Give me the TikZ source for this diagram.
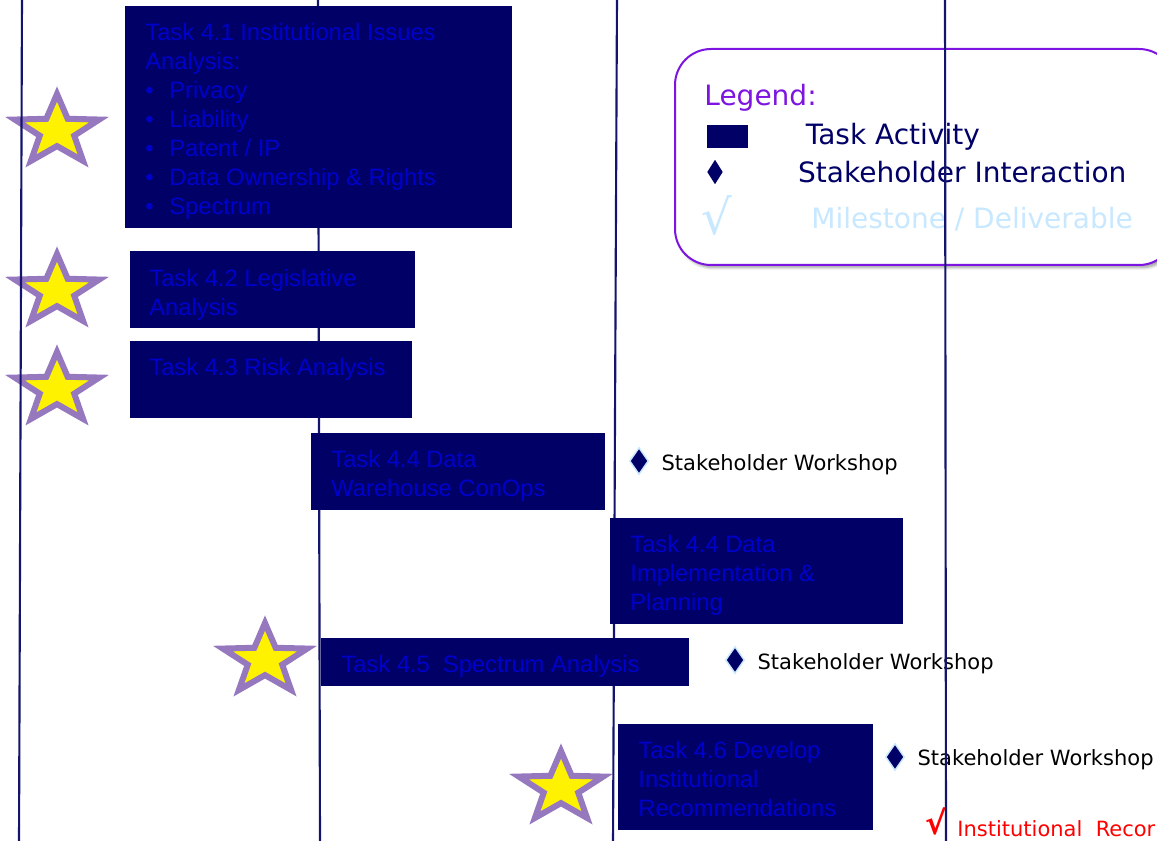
\documentclass[tikz,border=0pt]{standalone}
\usepackage{fontspec}
\setmainfont{Liberation Sans}
\newfontfamily\tahoma{DejaVu Sans}
\usepackage{tikz}
\usetikzlibrary{shapes.geometric,positioning,shadows.blur}
\definecolor{navy}{RGB}{0,0,102}
\definecolor{taskblue}{RGB}{0,0,204}
\definecolor{gridnavy}{RGB}{20,20,110}
\definecolor{starlilac}{RGB}{150,120,190}
\definecolor{legendpurple}{RGB}{125,20,225}
\definecolor{paleblue}{RGB}{200,232,255}
\newcommand\itembullet{\makebox[18pt][l]{\textbullet}}

\begin{document}
\begin{tikzpicture}[x=0.75pt,y=-0.75pt,semithick]
			\tikzstyle{taskbox}=[draw=none,fill=navy,anchor=north west,inner sep=0pt]
			\tikzstyle{tasktext}=[anchor=north west,inner sep=0pt,align=left,text=taskblue,font=\fontsize{17.8}{21.75}\selectfont]
			\tikzstyle{bigstar}=[star,star points=5,star point ratio=2.45,minimum size=55.5pt,inner sep=0pt,draw=starlilac,fill=yellow,line width=4.5pt,transform shape]
			\tikzstyle{talk}=[diamond,fill=navy,draw=paleblue,line width=1.1pt,minimum width=14.25pt,minimum height=20.25pt,inner sep=0pt]
			\tikzstyle{talktext}=[inner sep=0pt,font=\tahoma\fontsize{15.75}{18}\selectfont]
			\tikzstyle{legendtext}=[inner sep=0pt,font=\tahoma\fontsize{21}{24}\selectfont]
			\tikzstyle{timeline}=[draw=gridnavy,line width=1.6pt]
			\useasboundingbox (0,0) rectangle (1157,841);
			\clip (0,0) rectangle (1157,841);

			% stars
			\foreach \sx/\sy [count=\k] in {57/131,57/291,57/389,265/660,561/788}{
				\begin{scope}[shift={(\sx,\sy)},xscale=1.2]
					\node[bigstar] (star\k) at (0,0) {};
				\end{scope}
			}

			% legend
			\node[draw=legendpurple,line width=1.5pt,rounded corners=27pt,fill=white,
				blur shadow={shadow xshift=2pt,shadow yshift=-2pt,shadow blur steps=6},
				minimum width=375pt,minimum height=162pt,anchor=north west,inner sep=0pt] (legend) at (674,48) {};
			\node[legendtext,text=legendpurple,anchor=west] (legendhead) at (704,98) {Legend:};
			\node[fill=navy,minimum width=30.75pt,minimum height=17.25pt,inner sep=0pt] (keybox) at (727.5,136.5) {};
			\node[legendtext,text=navy,right=42.75pt of keybox] (keyboxtext) {Task Activity};
			\node[talk,draw=none,minimum width=12pt,minimum height=18.75pt] (keytalk) at (715,172) {};
			\node[legendtext,text=navy,right=55.5pt of keytalk] (keytalktext) {Stakeholder Interaction};
			\node[inner sep=0pt,text=paleblue,font=\tahoma\fontsize{36}{40}\selectfont] (keytick) at (717,216) {√};
			\node[legendtext,text=paleblue,anchor=west] (keyticktext) at (811,219) {Milestone / Deliverable};

			% stakeholder workshops
			\node[talk] (talk1) at (639,461) {};
			\node[talktext,right=9pt of talk1,yshift=-2.5pt] (talk1text) {Stakeholder Workshop};
			\node[talk] (talk2) at (735,660) {};
			\node[talktext,right=9pt of talk2,yshift=-2.5pt] (talk2text) {Stakeholder Workshop};
			\node[talk] (talk3) at (895,757) {};
			\node[talktext,right=9pt of talk3,yshift=-2pt] (talk3text) {Stakeholder Workshop};
			\node[inner sep=0pt,text=red,font=\tahoma\bfseries\fontsize{24}{27}\selectfont] (tick) at (936,821) {√};
			\node[talktext,text=red,anchor=west] (ticktext) at (957,829) {Institutional\ \ Recor};

			% time lines
			\draw[timeline] (22,-5) -- (19,846);
			\draw[timeline] (318,-5) -- (320,846);
			\draw[timeline] (617,-5) -- (613,846);
			\draw[timeline] (945,-5) -- (946,846);

			% tasks
			\node[taskbox,minimum width=290.25pt,minimum height=166.5pt] (t41) at (125,6) {};
			\node[tasktext] (t41text) at ([xshift=15pt,yshift=-12.4pt]t41.north west)
				{Task 4.1 Institutional Issues\\Analysis:\\\itembullet Privacy\\\itembullet Liability\\\itembullet Patent / IP\\\itembullet Data Ownership \& Rights\\\itembullet Spectrum};
			\node[taskbox,minimum width=213.75pt,minimum height=57.75pt] (t42) at (130,251) {};
			\node[tasktext] (t42text) at ([xshift=14.25pt,yshift=-13.5pt]t42.north west) {Task 4.2 Legislative\\Analysis};
			\node[taskbox,minimum width=211.5pt,minimum height=57.75pt] (t43) at (130,341) {};
			\node[tasktext] (t43text) at ([xshift=14.25pt,yshift=-12.4pt]t43.north west) {Task 4.3 Risk Analysis};
			\node[taskbox,minimum width=220.5pt,minimum height=57.75pt] (t44a) at (311,433) {};
			\node[tasktext] (t44atext) at ([xshift=15pt,yshift=-12.4pt]t44a.north west) {Task 4.4 Data\\Warehouse ConOps};
			\node[taskbox,minimum width=219.75pt,minimum height=79.5pt] (t44b) at (610,518) {};
			\node[tasktext] (t44btext) at ([xshift=15pt,yshift=-13pt]t44b.north west) {Task 4.4 Data\\Implementation \&\\Planning};
			\node[taskbox,minimum width=276pt,minimum height=36pt] (t45) at (321,638) {};
			\node[tasktext] (t45text) at ([xshift=15pt,yshift=-12.4pt]t45.north west) {Task 4.5\ \ Spectrum Analysis};
			\node[taskbox,minimum width=191.25pt,minimum height=79.5pt] (t46) at (618,724) {};
			\node[tasktext] (t46text) at ([xshift=15pt,yshift=-12.4pt]t46.north west) {Task 4.6 Develop\\Institutional\\Recommendations};
		\end{tikzpicture}
\end{document}
